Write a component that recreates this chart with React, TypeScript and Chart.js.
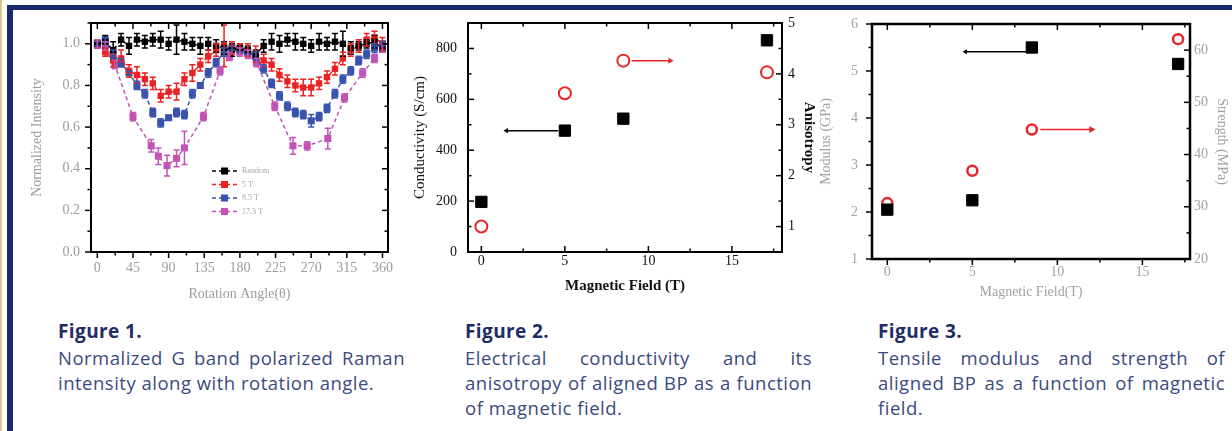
import React, { useEffect, useRef } from 'react';
import { Chart, registerables } from 'chart.js';

Chart.register(...registerables);

// ---------- Figure 1 data ----------
const ANGLES = [0, 10, 20, 30, 40, 50, 60, 70, 80, 90, 100, 110, 120, 130, 140, 150, 160, 170, 180, 190, 200, 210, 220, 230, 240, 250, 260, 270, 280, 290, 300, 310, 320, 330, 340, 350, 360];
const RANDOM = [1.0, 1.01, 0.97, 1.02, 0.99, 1.02, 1.01, 1.02, 1.02, 1.0, 1.02, 1.01, 1.0, 0.99, 1.0, 0.99, 0.98, 0.97, 0.98, 0.97, 0.95, 0.99, 1.01, 1.0, 1.02, 1.01, 1.0, 0.99, 1.01, 1.0, 1.01, 1.0, 0.98, 0.99, 1.0, 1.01, 0.98];
const RANDOM_ERR = [0.02, 0.03, 0.04, 0.03, 0.04, 0.03, 0.03, 0.03, 0.04, 0.03, 0.07, 0.04, 0.03, 0.04, 0.03, 0.03, 0.03, 0.03, 0.02, 0.02, 0.02, 0.03, 0.04, 0.04, 0.03, 0.04, 0.03, 0.03, 0.04, 0.03, 0.04, 0.06, 0.03, 0.02, 0.02, 0.03, 0.02];
const FIELD_5T = [1.0, 0.96, 0.92, 0.93, 0.87, 0.85, 0.83, 0.81, 0.75, 0.77, 0.77, 0.83, 0.86, 0.9, 0.94, 0.97, 0.99, 0.98, 0.98, 0.97, 0.95, 0.92, 0.9, 0.85, 0.82, 0.8, 0.79, 0.79, 0.81, 0.84, 0.88, 0.93, 0.97, 0.99, 1.02, 1.03, 1.0];
const FIELD_5T_ERR = [0.02, 0.02, 0.03, 0.04, 0.03, 0.04, 0.03, 0.03, 0.03, 0.03, 0.04, 0.03, 0.04, 0.03, 0.03, 0.03, 0.1, 0.03, 0.02, 0.03, 0.04, 0.03, 0.03, 0.03, 0.03, 0.03, 0.04, 0.04, 0.03, 0.03, 0.03, 0.03, 0.03, 0.03, 0.03, 0.03, 0.03];
const FIELD_85T = [1.0, 1.02, 0.95, 0.91, 0.86, 0.8, 0.76, 0.67, 0.62, 0.645, 0.67, 0.66, 0.76, 0.8, 0.86, 0.91, 0.96, 0.98, 0.97, 0.96, 0.94, 0.88, 0.81, 0.75, 0.7, 0.67, 0.66, 0.63, 0.65, 0.69, 0.76, 0.83, 0.87, 0.92, 0.95, 0.98, 1.0];
const FIELD_85T_ERR = [0.01, 0.01, 0.02, 0.02, 0.01, 0.02, 0.02, 0.02, 0.02, 0.01, 0.02, 0.02, 0.02, 0.01, 0.02, 0.02, 0.02, 0.01, 0.01, 0.01, 0.02, 0.02, 0.02, 0.02, 0.02, 0.02, 0.02, 0.03, 0.02, 0.02, 0.02, 0.02, 0.02, 0.02, 0.02, 0.02, 0.01];
const ANGLES_173 = [0, 10, 22, 45, 68, 77, 88, 100, 110, 134, 155, 167, 180, 190, 201, 224, 247, 265, 291, 312, 335, 350, 360];
const FIELD_173T = [1.0, 0.99, 0.9, 0.65, 0.51, 0.46, 0.415, 0.45, 0.5, 0.65, 0.87, 0.94, 0.96, 0.95, 0.91, 0.7, 0.51, 0.51, 0.545, 0.74, 0.86, 0.93, 0.98];
const FIELD_173T_ERR = [0.02, 0.02, 0.02, 0.02, 0.03, 0.04, 0.05, 0.04, 0.08, 0.02, 0.02, 0.02, 0.02, 0.02, 0.02, 0.02, 0.04, 0.02, 0.05, 0.02, 0.02, 0.02, 0.02];
const FIG1_SERIES = ['Random', '5 T', '8.5 T', '17.3 T'];
const FIG1_X_LABELS = [0, 45, 90, 135, 180, 225, 270, 315, 360];
const FIG1_Y_LABELS = [0, 0.2, 0.4, 0.6, 0.8, 1.0];

// ---------- Figure 2 data ----------
const FIELDS = [0, 5, 8.5, 17.1];
const CONDUCTIVITY = [197, 477, 524, 832];
const ANISOTROPY = [1.0, 3.62, 4.26, 4.03];
const COND_ARROW_X = [1.5, 4.6];
const COND_ARROW_Y = [477, 477];
const ANIS_ARROW_X = [9.0, 11.3];
const ANIS_ARROW_Y = [4.26, 4.26];
const FIG2_X_LABELS = [0, 5, 10, 15];
const FIG2_Y_LABELS = [0, 200, 400, 600, 800];
const FIG2_Y2_LABELS = [1, 2, 3, 4, 5];

// ---------- Figure 3 data ----------
const MODULUS = [2.05, 2.25, 5.5, 5.15];
const STRENGTH = [30.7, 36.9, 44.8, 62.1];
const MOD_ARROW_X = [4.6, 8.2];
const MOD_ARROW_Y = [5.41, 5.41];
const STR_ARROW_X = [9.0, 12.0];
const STR_ARROW_Y = [44.8, 44.8];
const FIG3_X_LABELS = [0, 5, 10, 15];
const FIG3_Y_LABELS = [1, 2, 3, 4, 5, 6];
const FIG3_Y2_LABELS = [20, 30, 40, 50, 60];

const SERIF = "'Liberation Serif', 'Times New Roman', serif";
const SANS = "'Open Sans', 'Noto Sans', sans-serif";

const toXY = (xs: number[], ys: number[]) => xs.map((x, i) => ({ x, y: ys[i] }));

// ---------- plugins ----------
const framePlugin = {
  id: 'frame',
  afterDraw(chart: any, _args: any, opts: any) {
    const { ctx, chartArea: a, scales } = chart;
    ctx.save();
    ctx.strokeStyle = '#000';
    ctx.lineWidth = opts.lineWidth || 2;
    ctx.strokeRect(a.left, a.top, a.right - a.left, a.bottom - a.top);
    ctx.lineWidth = 1.5;
    const major = opts.major || 6;
    const minor = opts.minor || 3.5;
    const sides = opts.sides || {};
    const draw = (side: string, scale: any, dir: string) => {
      if (!scale || !dir) return;
      const sign = dir === 'out' ? 1 : -1;
      scale.ticks.forEach((t: any) => {
        const len = t.label !== '' ? major : minor;
        const p = scale.getPixelForValue(t.value);
        ctx.beginPath();
        if (side === 'bottom') { ctx.moveTo(p, a.bottom); ctx.lineTo(p, a.bottom + sign * len); }
        if (side === 'top') { ctx.moveTo(p, a.top); ctx.lineTo(p, a.top - sign * len); }
        if (side === 'left') { ctx.moveTo(a.left, p); ctx.lineTo(a.left - sign * len, p); }
        if (side === 'right') { ctx.moveTo(a.right, p); ctx.lineTo(a.right + sign * len, p); }
        ctx.stroke();
      });
    };
    draw('bottom', scales.x, sides.bottom);
    draw('top', scales.x, sides.top);
    draw('left', scales.y, sides.left);
    draw('right', scales.y2 || scales.y, sides.right);
    ctx.restore();
  },
};

const errorBarPlugin = {
  id: 'errorBars',
  afterDatasetsDraw(chart: any) {
    const { ctx } = chart;
    chart.data.datasets.forEach((ds: any, i: number) => {
      if (!ds.errors) return;
      const meta = chart.getDatasetMeta(i);
      const ys = chart.scales[meta.yAxisID];
      ctx.save();
      ctx.strokeStyle = ds.borderColor;
      ctx.lineWidth = 1.5;
      meta.data.forEach((el: any, j: number) => {
        const v = ds.data[j].y;
        const e = ds.errors[j];
        const x = el.x;
        const y1 = ys.getPixelForValue(v + e);
        const y2 = ys.getPixelForValue(v - e);
        ctx.beginPath();
        ctx.moveTo(x, y1); ctx.lineTo(x, y2);
        ctx.moveTo(x - 3, y1); ctx.lineTo(x + 3, y1);
        ctx.moveTo(x - 3, y2); ctx.lineTo(x + 3, y2);
        ctx.stroke();
      });
      ctx.restore();
    });
  },
};

const innerLegendPlugin = {
  id: 'innerLegend',
  afterDraw(chart: any, _args: any, opts: any) {
    if (!opts || !opts.display) return;
    const { ctx, chartArea: a } = chart;
    ctx.save();
    chart.data.datasets.forEach((ds: any, i: number) => {
      if (!ds.inLegend) return;
      const x0 = a.left + opts.x;
      const y = a.top + opts.y + i * opts.spacing;
      ctx.strokeStyle = ds.borderColor;
      ctx.lineWidth = 1.5;
      ctx.setLineDash([4, 3]);
      ctx.beginPath(); ctx.moveTo(x0, y); ctx.lineTo(x0 + opts.len, y); ctx.stroke();
      ctx.setLineDash([]);
      ctx.fillStyle = ds.backgroundColor;
      ctx.fillRect(x0 + opts.len / 2 - 3.5, y - 3.5, 7, 7);
      ctx.fillStyle = opts.color;
      ctx.font = `${opts.fontSize}px ${SERIF}`;
      ctx.textBaseline = 'middle';
      ctx.fillText(ds.label, x0 + opts.len + 5, y);
    });
    ctx.restore();
  },
};

// ---------- scale helper ----------
function makeScale(o: any) {
  const horizontal = o.position === 'bottom' || o.position === 'top';
  return {
    type: 'linear',
    position: o.position,
    min: o.min,
    max: o.max,
    grid: { display: false, drawTicks: false },
    border: { display: false },
    afterBuildTicks: (s: any) => {
      s.ticks = s.ticks.filter((t: any) => Math.abs(t.value / o.step - Math.round(t.value / o.step)) < 1e-6);
    },
    afterFit: (s: any) => {
      if (horizontal) s.height = o.size; else s.width = o.size;
      s.paddingLeft = 0; s.paddingRight = 0; s.paddingTop = 0; s.paddingBottom = 0;
    },
    ticks: {
      stepSize: o.step,
      includeBounds: false,
      autoSkip: false,
      maxRotation: 0,
      minRotation: 0,
      padding: o.pad,
      color: o.color,
      font: { family: SERIF, size: o.fontSize, weight: o.weight || 'normal' },
      callback: (v: number) => {
        const m = o.labels.find((l: number) => Math.abs(l - v) < 1e-6);
        return m === undefined ? '' : o.fmt(m);
      },
    },
    title: {
      display: true,
      text: o.title,
      color: o.color,
      font: { family: SERIF, size: o.titleSize, weight: o.titleWeight || 'normal' },
      padding: { top: o.titlePad, bottom: o.titlePad },
    },
  };
}

// ---------- chart configs ----------
function fig1Config(): any {
  const gray = '#9c9c9c';
  const line = (label: string, xs: number[], ys: number[], errs: number[], color: string, r: number) => ({
    label, data: toXY(xs, ys), errors: errs, inLegend: true,
    borderColor: color, backgroundColor: color, borderDash: [4, 3], borderWidth: 1.5,
    pointStyle: 'rect', pointRadius: r, pointBorderWidth: 0, showLine: true,
  });
  return {
    type: 'scatter',
    data: {
      datasets: [
        line(FIG1_SERIES[0], ANGLES, RANDOM, RANDOM_ERR, '#000000', 4.5),
        line(FIG1_SERIES[1], ANGLES, FIELD_5T, FIELD_5T_ERR, '#ee2222', 4.5),
        line(FIG1_SERIES[2], ANGLES, FIELD_85T, FIELD_85T_ERR, '#3853ae', 5),
        line(FIG1_SERIES[3], ANGLES_173, FIELD_173T, FIELD_173T_ERR, '#c254b6', 5),
      ],
    },
    options: {
      responsive: false, animation: false, devicePixelRatio: 1,
      layout: { padding: { top: 11, right: 12, left: 0, bottom: 0 } },
      plugins: {
        legend: { display: false }, tooltip: { enabled: false },
        frame: { lineWidth: 2, sides: { bottom: 'out', left: 'out', top: 'in', right: 'in' } },
        innerLegend: { display: true, x: 121, y: 148, spacing: 13.5, len: 25, color: '#a8a8a8', fontSize: 8 },
      },
      scales: {
        x: makeScale({ position: 'bottom', min: -8, max: 367, step: 22.5, labels: FIG1_X_LABELS, fmt: (v: number) => String(v), size: 55, pad: 8, color: gray, fontSize: 14, title: 'Rotation Angle(θ)', titleSize: 14, titlePad: 4 }),
        y: makeScale({ position: 'left', min: 0, max: 1.1, step: 0.1, labels: FIG1_Y_LABELS, fmt: (v: number) => v.toFixed(1), size: 77, pad: 11, color: gray, fontSize: 14, title: 'Normalized Intensity', titleSize: 14, titlePad: 15 }),
      },
    },
    plugins: [framePlugin, errorBarPlugin, innerLegendPlugin],
  };
}

function fig2Config(): any {
  const black = '#111111';
  const red = '#e8262a';
  return {
    type: 'scatter',
    data: {
      datasets: [
        { label: 'Conductivity', data: toXY(FIELDS, CONDUCTIVITY), yAxisID: 'y', pointStyle: 'rect', pointRadius: 8, backgroundColor: '#000', borderColor: '#000', pointBorderWidth: 1 },
        { label: 'Anisotropy', data: toXY(FIELDS, ANISOTROPY), yAxisID: 'y2', pointStyle: 'circle', pointRadius: 6, backgroundColor: '#fff', borderColor: red, pointBorderWidth: 2 },
        { label: 'cond-arrow', data: toXY(COND_ARROW_X, COND_ARROW_Y), yAxisID: 'y', showLine: true, borderColor: '#000', backgroundColor: '#000', borderWidth: 1.5, pointStyle: 'triangle', rotation: -90, pointRadius: [3, 0], pointBorderWidth: 0 },
        { label: 'anis-arrow', data: toXY(ANIS_ARROW_X, ANIS_ARROW_Y), yAxisID: 'y2', showLine: true, borderColor: red, backgroundColor: red, borderWidth: 1.5, pointStyle: 'triangle', rotation: 90, pointRadius: [0, 3.5], pointBorderWidth: 0 },
      ],
    },
    options: {
      responsive: false, animation: false, devicePixelRatio: 1,
      layout: { padding: { top: 11, right: 0, left: 0, bottom: 0 } },
      plugins: {
        legend: { display: false }, tooltip: { enabled: false },
        frame: { lineWidth: 2, sides: { bottom: 'in', left: 'in', top: 'in', right: 'in' } },
      },
      scales: {
        x: makeScale({ position: 'bottom', min: -0.8, max: 18, step: 2.5, labels: FIG2_X_LABELS, fmt: (v: number) => String(v), size: 55, pad: 1, color: black, fontSize: 14, title: 'Magnetic Field (T)', titleSize: 15, titleWeight: 'bold', titlePad: 12 }),
        y: makeScale({ position: 'left', min: 0, max: 900, step: 100, labels: FIG2_Y_LABELS, fmt: (v: number) => String(v), size: 68, pad: 11, color: black, fontSize: 14, title: 'Conductivity (S/cm)', titleSize: 15, titlePad: 11 }),
        y2: makeScale({ position: 'right', min: 0.5, max: 5, step: 0.5, labels: FIG2_Y2_LABELS, fmt: (v: number) => String(v), size: 43, pad: 6, color: black, fontSize: 14, title: 'Anisotropy', titleSize: 15, titleWeight: 'bold', titlePad: 7 }),
      },
    },
    plugins: [framePlugin],
  };
}

function fig3Config(): any {
  const gray = '#a2a2a2';
  const red = '#e8262a';
  return {
    type: 'scatter',
    data: {
      datasets: [
        { label: 'Modulus', data: toXY(FIELDS, MODULUS), yAxisID: 'y', pointStyle: 'rect', pointRadius: 8, backgroundColor: '#000', borderColor: '#000', pointBorderWidth: 1 },
        { label: 'Strength', data: toXY(FIELDS, STRENGTH), yAxisID: 'y2', pointStyle: 'circle', pointRadius: 5, backgroundColor: '#fff', borderColor: red, pointBorderWidth: 2.5 },
        { label: 'mod-arrow', data: toXY(MOD_ARROW_X, MOD_ARROW_Y), yAxisID: 'y', showLine: true, borderColor: '#000', backgroundColor: '#000', borderWidth: 1.5, pointStyle: 'triangle', rotation: -90, pointRadius: [3, 0], pointBorderWidth: 0 },
        { label: 'str-arrow', data: toXY(STR_ARROW_X, STR_ARROW_Y), yAxisID: 'y2', showLine: true, borderColor: red, backgroundColor: red, borderWidth: 1.5, pointStyle: 'triangle', rotation: 90, pointRadius: [0, 4], pointBorderWidth: 0 },
      ],
    },
    options: {
      responsive: false, animation: false, devicePixelRatio: 1,
      layout: { padding: { top: 12, right: 0, left: 0, bottom: 0 } },
      plugins: {
        legend: { display: false }, tooltip: { enabled: false },
        frame: { lineWidth: 2.5, sides: { bottom: 'out', left: 'out', top: 'in', right: 'in' } },
      },
      scales: {
        x: makeScale({ position: 'bottom', min: -0.9, max: 17.8, step: 2.5, labels: FIG3_X_LABELS, fmt: (v: number) => String(v), size: 48, pad: 5, color: gray, fontSize: 14, title: 'Magnetic Field(T)', titleSize: 14, titlePad: 6 }),
        y: makeScale({ position: 'left', min: 1, max: 6, step: 0.5, labels: FIG3_Y_LABELS, fmt: (v: number) => String(v), size: 62, pad: 14, color: gray, fontSize: 14, title: 'Modulus (GPa)', titleSize: 14, titlePad: 8 }),
        y2: makeScale({ position: 'right', min: 20, max: 65, step: 5, labels: FIG3_Y2_LABELS, fmt: (v: number) => String(v), size: 42, pad: 4, color: gray, fontSize: 14, title: 'Strength (MPa)', titleSize: 14, titlePad: 2 }),
      },
    },
    plugins: [framePlugin],
  };
}

function ChartCanvas({ make, left, top, width, height }: any) {
  const ref = useRef<HTMLCanvasElement | null>(null);
  useEffect(() => {
    const chart = new Chart(ref.current as HTMLCanvasElement, make());
    return () => chart.destroy();
  }, []);
  return (
    <canvas
      ref={ref}
      width={width}
      height={height}
      style={{ position: 'absolute', left, top, width, height }}
    />
  );
}

const TITLE_COLOR = '#1f2c66';
const BODY_COLOR = '#3a4a80';

function Caption({ left, title, lines }: { left: number; title: string; lines: string[] }) {
  return (
    <div style={{ position: 'absolute', left, top: 319, width: 347, fontFamily: SANS }}>
      <div style={{ fontWeight: 700, fontSize: 19, letterSpacing: '0.4px', lineHeight: '24px', color: TITLE_COLOR }}>{title}</div>
      <div style={{ marginTop: 2, fontSize: 18.5, letterSpacing: '0.5px', lineHeight: '25px', color: BODY_COLOR }}>
        {lines.map((l, i) => (
          <div
            key={i}
            style={{
              whiteSpace: 'nowrap',
              textAlign: i < lines.length - 1 ? 'justify' : 'left',
              textAlignLast: i < lines.length - 1 ? 'justify' : 'left',
            } as any}
          >
            {l}
          </div>
        ))}
      </div>
    </div>
  );
}

export default function App() {
  return (
    <div style={{ position: 'absolute', left: 0, top: 0, width: 1232, height: 431, overflow: 'hidden', background: '#ffffff' }}>
      <div style={{ position: 'absolute', left: 0, top: 0, width: 2, height: 431, background: '#d8c98e' }} />
      <div style={{ position: 'absolute', left: 7, top: 5, width: 1225, height: 5, background: '#1b2a6b' }} />
      <div style={{ position: 'absolute', left: 7, top: 5, width: 6, height: 426, background: '#1b2a6b' }} />
      <ChartCanvas make={fig1Config} left={14} top={12} width={386} height={295} />
      <ChartCanvas make={fig2Config} left={400} top={12} width={425} height={295} />
      <ChartCanvas make={fig3Config} left={810} top={12} width={422} height={295} />
      <Caption left={58} title="Figure 1." lines={['Normalized G band polarized Raman', 'intensity along with rotation angle.']} />
      <Caption left={465} title="Figure 2." lines={['Electrical conductivity and its', 'anisotropy of aligned BP as a function', 'of magnetic field.']} />
      <Caption left={878} title="Figure 3." lines={['Tensile modulus and strength of', 'aligned BP as a function of magnetic', 'field.']} />
    </div>
  );
}
